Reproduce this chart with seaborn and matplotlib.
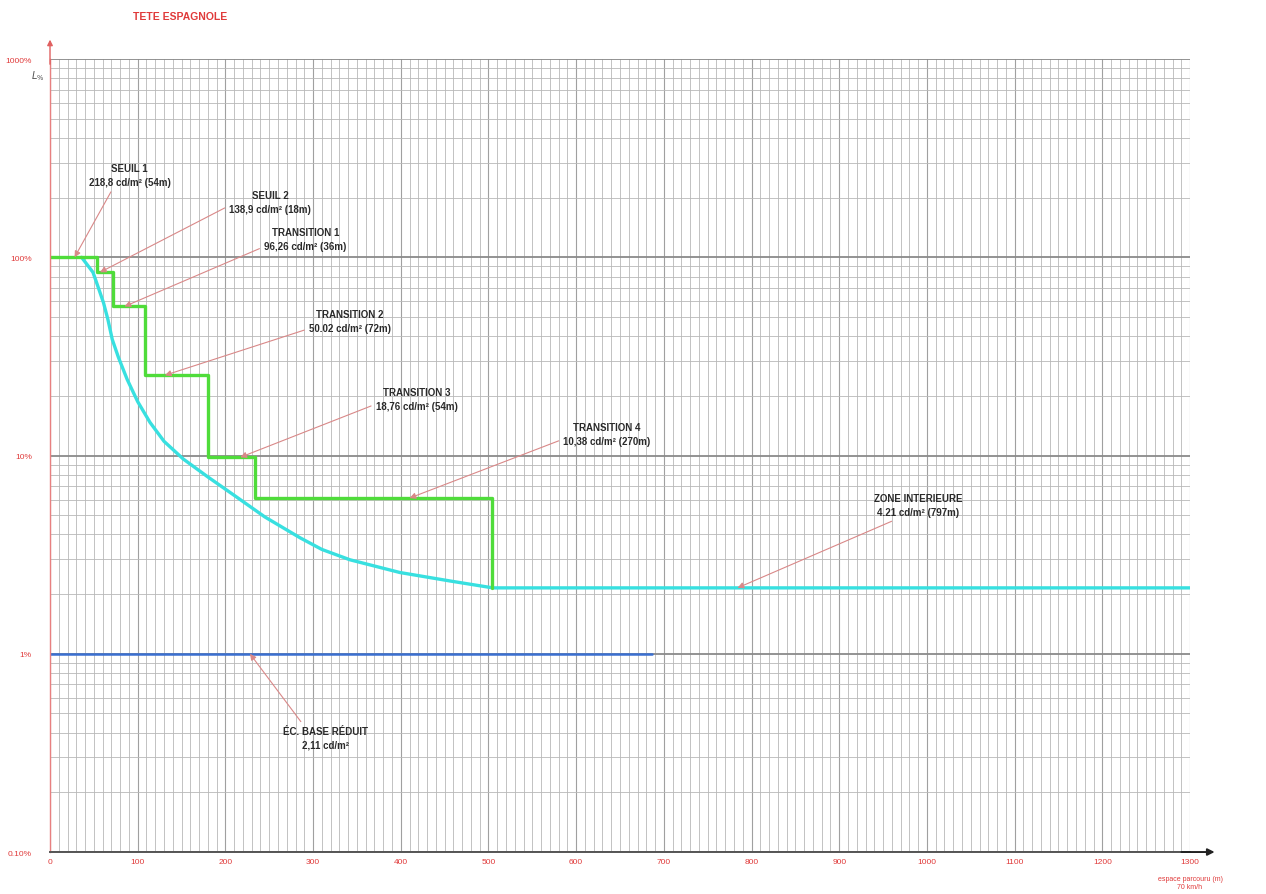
import numpy as np
import pandas as pd
import matplotlib
matplotlib.use("Agg")
import matplotlib.pyplot as plt
import seaborn as sns
from matplotlib.ticker import FixedLocator, NullFormatter

# luminance profile, % of L_seuil, against distance travelled (m)
step_bounds = [0, 54, 72, 108, 180, 234, 504]
step_levels = [100, 84, 56.5, 25.4, 9.8, 6.1]
interior_level = 2.15

curve_x = [36, 49, 53, 61, 66, 71, 78, 88, 100, 114, 130, 152, 180, 210, 245, 285, 310, 342, 399,
           456, 505, 1300]
curve_y = [100, 84, 74.8, 59, 48.6, 38.5, 31.3, 24.2, 18.7, 14.7, 11.8, 9.6, 7.8, 6.3, 4.9, 3.85,
           3.36, 2.98, 2.57, 2.33, 2.15, 2.15]

base_x = [0, 686]
base_y = [1, 1]

labels = [
    "SEUIL 1\n218,8 cd/m² (54m)",
    "SEUIL 2\n138,9 cd/m² (18m)",
    "TRANSITION 1\n96,26 cd/m² (36m)",
    "TRANSITION 2\n50.02 cd/m² (72m)",
    "TRANSITION 3\n18,76 cd/m² (54m)",
    "TRANSITION 4\n10,38 cd/m² (270m)",
    "ZONE INTERIEURE\n4.21 cd/m² (797m)",
    "ÉC. BASE RÉDUIT\n2,11 cd/m²",
]
tip_x = [28, 57, 85, 131, 217, 410, 784, 228]
tip_y = [100, 84, 56.5, 25.4, 9.8, 6.1, 2.15, 1]
text_x = [91, 251, 291, 342, 418, 635, 990, 314]
text_y = [259, 190, 123, 47.5, 19.2, 12.8, 5.6, 0.376]
rel_pos = [(0.3, 0), (0, 0.35), (0, 0.2), (0, 0.2), (0, 0.3), (0, 0.3), (0.3, 0), (0.25, 1)]

x_ticks = list(range(0, 1301, 100))
y_ticks = [0.1, 1, 10, 100, 1000]
y_tick_labels = ["0.10%", "1%", "10%", "100%", "1000%"]

# build the step line from bounds / levels
sx = np.repeat(step_bounds, 2)[1:-1]
sy = np.repeat(step_levels, 2)
sx = np.append(sx, step_bounds[-1])
sy = np.append(sy, interior_level)
steps = pd.DataFrame({"x": sx, "y": sy})
curve = pd.DataFrame({"x": curve_x, "y": curve_y})
base = pd.DataFrame({"x": base_x, "y": base_y})

sns.set_style("white")
plt.rcParams["font.family"] = ["Liberation Sans", "DejaVu Sans"]

fig = plt.figure(figsize=(12.66, 8.95), dpi=100)
ax = fig.add_axes([0.0395, 0.0469, 0.9005, 0.886])
ax.set_yscale("log")
ax.set_xlim(0, 1300)
ax.set_ylim(0.1, 1000)

# grid
ax.xaxis.set_major_locator(FixedLocator(x_ticks))
ax.xaxis.set_minor_locator(FixedLocator(list(range(0, 1301, 10))))
ax.yaxis.set_major_locator(FixedLocator(y_ticks))
minor_y = [m * 10.0 ** e for e in range(-1, 3) for m in range(2, 10)]
ax.yaxis.set_minor_locator(FixedLocator(minor_y))
ax.yaxis.set_minor_formatter(NullFormatter())
ax.grid(which="minor", color="#b8b8b8", lw=0.6)
ax.grid(which="major", axis="x", color="#a0a0a0", lw=0.8)
ax.grid(which="major", axis="y", color="#8a8a8a", lw=1.3)
ax.set_axisbelow(True)

sns.lineplot(data=base, x="x", y="y", ax=ax, color="#3a6fd0", lw=1.8, estimator=None)
sns.lineplot(data=curve, x="x", y="y", ax=ax, color="#38e0e0", lw=2.4, estimator=None, sort=False)
sns.lineplot(data=steps, x="x", y="y", ax=ax, color="#4fdc3a", lw=2.4, estimator=None, sort=False)

for lab, tx, ty, px, py, rp in zip(labels, text_x, text_y, tip_x, tip_y, rel_pos):
    ax.annotate(lab, xy=(px, py), xytext=(tx, ty), ha="center", va="center",
                fontsize=7, fontweight="bold", color="#2a2a2a", linespacing=1.5,
                arrowprops=dict(arrowstyle="-|>", color="#d98888", lw=0.8,
                                mutation_scale=9, relpos=rp, shrinkA=1, shrinkB=0))

ax.set_xticklabels([str(v) for v in x_ticks])
ax.set_yticklabels(y_tick_labels)
ax.tick_params(axis="both", which="both", length=0, labelsize=6, labelcolor="#e03a3a")
ax.tick_params(axis="x", pad=4)
ax.tick_params(axis="y", pad=13)
ax.set_xlabel("")
ax.set_ylabel("")

for s in ["top", "right"]:
    ax.spines[s].set_visible(False)
ax.spines["left"].set_color("#e88080")
ax.spines["left"].set_linewidth(1)
ax.spines["bottom"].set_color("#555555")
ax.spines["bottom"].set_linewidth(1.4)

# axis arrows
ax.annotate("", xy=(0, 1.028), xytext=(0, 0.99), xycoords="axes fraction",
            arrowprops=dict(arrowstyle="-|>", color="#e06060", lw=1, mutation_scale=8))
ax.annotate("", xy=(1.024, 0), xytext=(0.99, 0), xycoords="axes fraction",
            arrowprops=dict(arrowstyle="-|>", color="#222222", lw=1.4, mutation_scale=10))

fig.text(0.035, 0.912, r"$L_{\%}$", fontsize=7, color="#555555", ha="right")
fig.text(0.142, 0.981, "TETE ESPAGNOLE", fontsize=7.5, fontweight="bold", color="#e03a3a",
         ha="center", va="center")
fig.text(0.94, 0.013, "espace parcouru (m)\n70 km/h", fontsize=5, color="#e03a3a",
         ha="center", va="center", linespacing=1.1)

fig.savefig("out.png", dpi=100)
